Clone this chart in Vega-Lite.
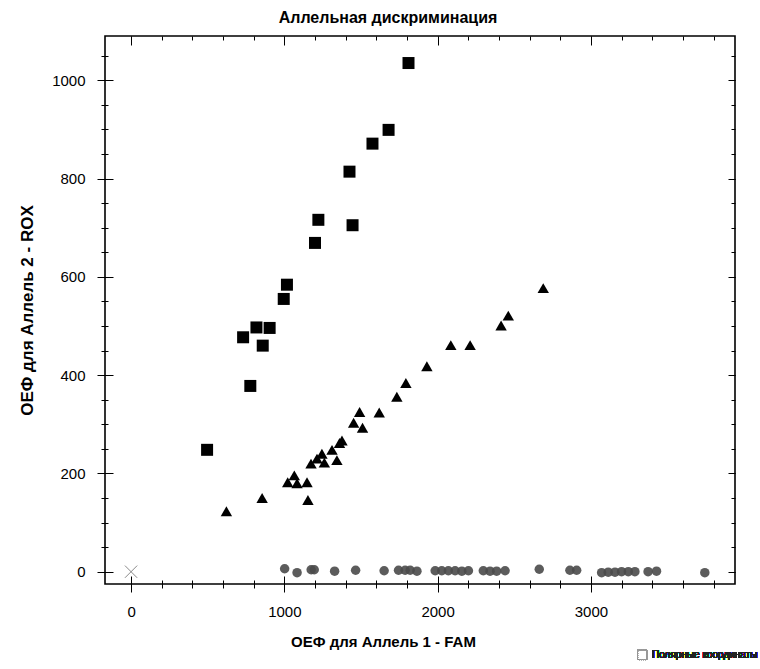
{
  "$schema": "https://vega.github.io/schema/vega-lite/v6.json",
  "width": 630,
  "height": 548,
  "autosize": {"type": "none"},
  "padding": {"left": 105, "top": 36, "right": 25, "bottom": 85},
  "background": "white",
  "title": {
    "text": "Аллельная дискриминация",
    "font": "Liberation Sans",
    "fontSize": 16,
    "fontWeight": "bold",
    "color": "black",
    "anchor": "middle",
    "dx": -32,
    "offset": 10
  },
  "config": {
    "view": {"stroke": "black", "strokeWidth": 1.6},
    "axis": {
      "grid": false,
      "domain": false,
      "tickColor": "black",
      "tickWidth": 1,
      "labelFont": "Liberation Sans",
      "labelFontSize": 15,
      "labelColor": "black",
      "labelFlush": false,
      "labelOverlap": false,
      "titleFont": "Liberation Sans",
      "titleFontWeight": "bold",
      "titleColor": "black"
    }
  },
  "data": {
    "values": [
      {"g": "A2", "fam": 496, "rox": 248},
      {"g": "A2", "fam": 731, "rox": 477},
      {"g": "A2", "fam": 778, "rox": 378},
      {"g": "A2", "fam": 818, "rox": 497},
      {"g": "A2", "fam": 859, "rox": 460},
      {"g": "A2", "fam": 904, "rox": 496},
      {"g": "A2", "fam": 996, "rox": 555},
      {"g": "A2", "fam": 1017, "rox": 584},
      {"g": "A2", "fam": 1200, "rox": 669},
      {"g": "A2", "fam": 1222, "rox": 716},
      {"g": "A2", "fam": 1425, "rox": 814},
      {"g": "A2", "fam": 1445, "rox": 705},
      {"g": "A2", "fam": 1575, "rox": 871},
      {"g": "A2", "fam": 1680, "rox": 899},
      {"g": "A2", "fam": 1810, "rox": 1035},
      {"g": "HET", "fam": 622, "rox": 123},
      {"g": "HET", "fam": 855, "rox": 150},
      {"g": "HET", "fam": 1022, "rox": 182},
      {"g": "HET", "fam": 1065, "rox": 196},
      {"g": "HET", "fam": 1083, "rox": 180},
      {"g": "HET", "fam": 1148, "rox": 182},
      {"g": "HET", "fam": 1154, "rox": 146},
      {"g": "HET", "fam": 1174, "rox": 220},
      {"g": "HET", "fam": 1213, "rox": 230},
      {"g": "HET", "fam": 1245, "rox": 240},
      {"g": "HET", "fam": 1261, "rox": 222},
      {"g": "HET", "fam": 1311, "rox": 248},
      {"g": "HET", "fam": 1343, "rox": 227},
      {"g": "HET", "fam": 1360, "rox": 262},
      {"g": "HET", "fam": 1376, "rox": 267},
      {"g": "HET", "fam": 1452, "rox": 303},
      {"g": "HET", "fam": 1491, "rox": 325},
      {"g": "HET", "fam": 1510, "rox": 293},
      {"g": "HET", "fam": 1619, "rox": 324},
      {"g": "HET", "fam": 1734, "rox": 356},
      {"g": "HET", "fam": 1793, "rox": 384},
      {"g": "HET", "fam": 1930, "rox": 418},
      {"g": "HET", "fam": 2086, "rox": 461},
      {"g": "HET", "fam": 2212, "rox": 461},
      {"g": "HET", "fam": 2414, "rox": 501},
      {"g": "HET", "fam": 2461, "rox": 521},
      {"g": "HET", "fam": 2689, "rox": 577},
      {"g": "A1", "fam": 1002, "rox": 6},
      {"g": "A1", "fam": 1083, "rox": -2},
      {"g": "A1", "fam": 1175, "rox": 4},
      {"g": "A1", "fam": 1195, "rox": 4},
      {"g": "A1", "fam": 1328, "rox": 1},
      {"g": "A1", "fam": 1465, "rox": 3},
      {"g": "A1", "fam": 1651, "rox": 2},
      {"g": "A1", "fam": 1745, "rox": 3},
      {"g": "A1", "fam": 1788, "rox": 3},
      {"g": "A1", "fam": 1821, "rox": 3},
      {"g": "A1", "fam": 1865, "rox": 1},
      {"g": "A1", "fam": 1984, "rox": 2},
      {"g": "A1", "fam": 2027, "rox": 2},
      {"g": "A1", "fam": 2070, "rox": 2},
      {"g": "A1", "fam": 2114, "rox": 2},
      {"g": "A1", "fam": 2158, "rox": 1},
      {"g": "A1", "fam": 2201, "rox": 2},
      {"g": "A1", "fam": 2298, "rox": 2},
      {"g": "A1", "fam": 2342, "rox": 1},
      {"g": "A1", "fam": 2385, "rox": 1},
      {"g": "A1", "fam": 2440, "rox": 2},
      {"g": "A1", "fam": 2663, "rox": 5},
      {"g": "A1", "fam": 2863, "rox": 3},
      {"g": "A1", "fam": 2907, "rox": 3},
      {"g": "A1", "fam": 3070, "rox": -2},
      {"g": "A1", "fam": 3113, "rox": -1},
      {"g": "A1", "fam": 3157, "rox": -1},
      {"g": "A1", "fam": 3200, "rox": 0},
      {"g": "A1", "fam": 3244, "rox": 0},
      {"g": "A1", "fam": 3287, "rox": 0},
      {"g": "A1", "fam": 3373, "rox": 0},
      {"g": "A1", "fam": 3428, "rox": 1},
      {"g": "A1", "fam": 3743, "rox": -2},
      {"g": "NTC", "fam": 0, "rox": 0}
    ]
  },
  "resolve": {"axis": {"x": "independent", "y": "independent"}},
  "layer": [
    {
      "transform": [{"filter": "datum.g === 'A2'"}],
      "mark": {"type": "point", "shape": "square", "filled": true, "color": "black", "opacity": 1, "size": 144},
      "encoding": {
        "x": {
          "field": "fam", "type": "quantitative",
          "scale": {"domain": [-170, 3940], "nice": false, "zero": false},
          "axis": {
            "orient": "bottom", "values": [0, 1000, 2000, 3000], "format": "d",
            "tickSize": 16, "offset": -8, "labelPadding": 12,
            "title": "ОЕФ для Аллель 1 - FAM", "titleFontSize": 15,
            "titlePadding": 15, "titleX": 278
          }
        },
        "y": {
          "field": "rox", "type": "quantitative",
          "scale": {"domain": [-25, 1090], "nice": false, "zero": false},
          "axis": {
            "orient": "left", "values": [0, 200, 400, 600, 800, 1000], "format": "d",
            "tickSize": 16, "offset": -8, "labelPadding": 12,
            "title": "ОЕФ для Аллель 2 - ROX", "titleFontSize": 17,
            "titlePadding": 15
          }
        }
      }
    },
    {
      "transform": [{"filter": "datum.g === 'HET'"}],
      "mark": {"type": "point", "shape": "triangle-up", "filled": true, "color": "black", "opacity": 1, "size": 130},
      "encoding": {
        "x": {
          "field": "fam", "type": "quantitative",
          "axis": {
            "orient": "bottom",
            "values": [-200, 0, 200, 400, 600, 800, 1000, 1200, 1400, 1600, 1800, 2000, 2200, 2400, 2600, 2800, 3000, 3200, 3400, 3600, 3800],
            "tickSize": 8, "offset": -4, "labels": false, "title": null
          }
        },
        "y": {
          "field": "rox", "type": "quantitative",
          "axis": {
            "orient": "left",
            "values": [0, 50, 100, 150, 200, 250, 300, 350, 400, 450, 500, 550, 600, 650, 700, 750, 800, 850, 900, 950, 1000, 1050],
            "tickSize": 7, "offset": -3, "labels": false, "title": null
          }
        }
      }
    },
    {
      "transform": [{"filter": "datum.g === 'A1'"}],
      "mark": {"type": "point", "shape": "circle", "filled": true, "color": "#4a4a4a", "opacity": 0.9, "size": 90},
      "encoding": {
        "x": {
          "field": "fam", "type": "quantitative",
          "axis": {
            "orient": "top",
            "values": [-200, 0, 200, 400, 600, 800, 1000, 1200, 1400, 1600, 1800, 2000, 2200, 2400, 2600, 2800, 3000, 3200, 3400, 3600, 3800],
            "tickSize": 4, "offset": -4, "labels": false, "title": null
          }
        },
        "y": {
          "field": "rox", "type": "quantitative",
          "axis": {
            "orient": "right",
            "values": [0, 50, 100, 150, 200, 250, 300, 350, 400, 450, 500, 550, 600, 650, 700, 750, 800, 850, 900, 950, 1000, 1050],
            "tickSize": 4, "offset": -4, "labels": false, "title": null
          }
        }
      }
    },
    {
      "transform": [{"filter": "datum.g === 'NTC'"}],
      "mark": {"type": "point", "shape": "M-1,-1L1,1M-1,1L1,-1", "filled": false, "stroke": "#8a8a8a", "strokeWidth": 1, "opacity": 1, "size": 150},
      "encoding": {
        "x": {
          "field": "fam", "type": "quantitative",
          "axis": {
            "orient": "top", "values": [0, 1000, 2000, 3000],
            "tickSize": 9, "offset": -9, "labels": false, "title": null
          }
        },
        "y": {
          "field": "rox", "type": "quantitative",
          "axis": {
            "orient": "right", "values": [0, 200, 400, 600, 800, 1000],
            "tickSize": 7, "offset": -7, "labels": false, "title": null
          }
        }
      }
    },
    {
      "mark": {"type": "point", "shape": "square", "filled": false, "stroke": "#999999", "strokeWidth": 1, "strokeDash": [1, 1], "opacity": 1, "size": 90},
      "encoding": {
        "x": {"datum": 3335, "type": "quantitative", "axis": null},
        "y": {"datum": -169, "type": "quantitative", "axis": null}
      }
    },
    {
      "mark": {"type": "text", "text": "Полярные координаты", "font": "Liberation Sans", "fontSize": 10, "align": "left", "baseline": "middle", "color": "#222222"},
      "encoding": {
        "x": {"datum": 3399, "type": "quantitative", "axis": null},
        "y": {"datum": -169, "type": "quantitative", "axis": null}
      }
    }
  ]
}
